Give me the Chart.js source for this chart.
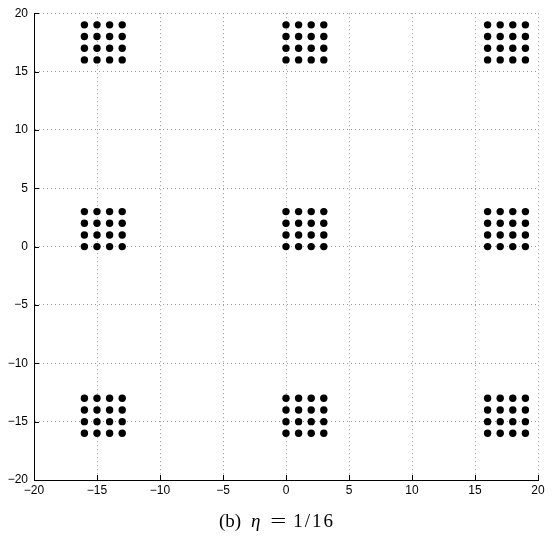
<!DOCTYPE html>
<html>
<head>
<meta charset="utf-8">
<script src="https://cdn.jsdelivr.net/npm/chart.js@4"></script>
<style>
  body { margin: 0; background: #fff; }
  #wrap { position: relative; width: 554px; height: 538px; }
  #caption {
    position: absolute; left: 0; width: 554px; top: 510px;
    text-align: center; font-family: "Liberation Serif", "DejaVu Serif", serif;
    font-size: 19px; color: #000; white-space: nowrap;
  }
  #caption .eta { margin-left: 10px; }
  #caption .eq { margin: 0 10px 0 12px; display: inline-block; transform: scaleX(1.5); }
  #caption .num { letter-spacing: 2px; }
</style>
</head>
<body>
<div id="wrap">
  <canvas id="chart" width="554" height="538"></canvas>
  <div id="caption">(b)<i class="eta">η</i><span class="eq">=</span><span class="num">1/16</span></div>
</div>
<script>
// point coordinates (4x4 blocks)
const xValues = [-16, -15, -14, -13, 0, 1, 2, 3, 16, 17, 18, 19];
const yValues = [-16, -15, -14, -13, 0, 1, 2, 3, 16, 17, 18, 19];
// axis ticks
const tickValues = [-20, -15, -10, -5, 0, 5, 10, 15, 20];

const points = [];
xValues.forEach(x => {
  yValues.forEach(y => points.push({ x: x, y: y }));
});

const fmt = v => (v < 0 ? '\u2212' + Math.abs(v) : String(v));

//draws short tick marks pointing into the plot, like matlab
const inwardTicks = {
  id: 'inwardTicks',
  afterDraw(chart) {
    const ctx = chart.ctx;
    const area = chart.chartArea;
    const xs = chart.scales.x, ys = chart.scales.y;
    ctx.save();
    ctx.strokeStyle = '#000';
    ctx.lineWidth = 1;
    ctx.beginPath();
    tickValues.forEach(v => {
      const px = Math.round(xs.getPixelForValue(v)) + 0.5;
      ctx.moveTo(px, area.bottom);
      ctx.lineTo(px, area.bottom - 5);
      const py = Math.round(ys.getPixelForValue(v)) + 0.5;
      ctx.moveTo(area.left, py);
      ctx.lineTo(area.left + 5, py);
    });
    ctx.stroke();
    ctx.restore();
  }
};

const tickFont = { family: '"Liberation Sans", Arial, sans-serif', size: 12 };
const gridColor = c => (c.tick && c.tick.value === -20 ? 'rgba(0,0,0,0)' : '#9a9a9a');

new Chart(document.getElementById('chart'), {
  type: 'scatter',
  plugins: [inwardTicks],
  data: {
    datasets: [{
      data: points,
      backgroundColor: '#000',
      borderWidth: 0,
      pointRadius: 3.7,
      pointHoverRadius: 3.7
    }]
  },
  options: {
    responsive: false,
    animation: false,
    layout: { padding: { top: 6, right: 16, left: 0, bottom: 0 } },
    plugins: { legend: { display: false }, tooltip: { enabled: false } },
    scales: {
      x: {
        type: 'linear', min: -20, max: 20,
        afterBuildTicks: s => { s.ticks = tickValues.map(v => ({ value: v })); },
        afterFit: s => { s.height = 58; },
        ticks: { color: '#000', font: tickFont, padding: 3, maxRotation: 0, callback: fmt },
        grid: { color: gridColor, lineWidth: 1, drawTicks: false },
        border: { display: true, color: '#000', width: 1, dash: [1, 3] }
      },
      y: {
        type: 'linear', min: -20, max: 20,
        afterBuildTicks: s => { s.ticks = tickValues.map(v => ({ value: v })); },
        afterFit: s => { s.width = 34; },
        ticks: { color: '#000', font: tickFont, padding: 6, callback: fmt },
        grid: { color: gridColor, lineWidth: 1, drawTicks: false },
        border: { display: true, color: '#000', width: 1, dash: [1, 3] }
      }
    }
  }
});
</script>
</body>
</html>
